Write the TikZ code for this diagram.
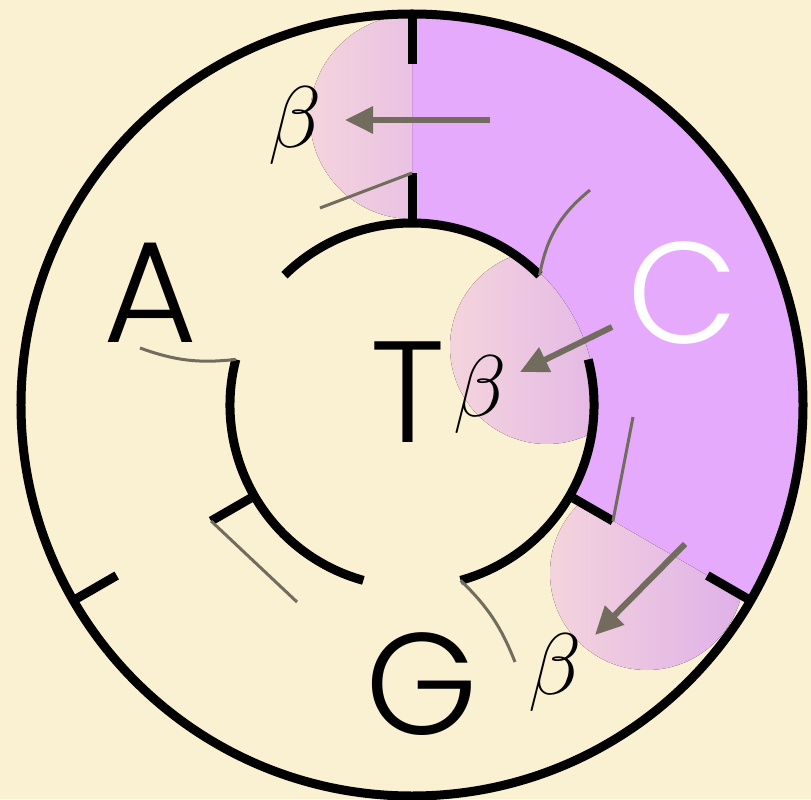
\documentclass[tikz,border=0pt]{standalone}
\usepackage{fontspec}
\newfontfamily\basefont{Poppins Light}
\definecolor{paper}{HTML}{FAF1D2}
\definecolor{lilac}{HTML}{E6AAFD}
\definecolor{blobpink}{HTML}{F4D4DC}
\definecolor{blobmauve}{HTML}{DFB0E9}
\definecolor{leadgray}{HTML}{716C5E}
\usetikzlibrary{arrows.meta}

\begin{document}
\begin{tikzpicture}[
  x=0.1mm, y=0.1mm,
  ring/.style={line width=0.9mm},
  lead/.style={draw=leadgray, line width=0.3mm},
  arr/.style={-{Triangle[length=2.8mm, width=2.6mm]}, draw=leadgray, fill=leadgray, line width=0.6mm},
  base/.style={font=\basefont\fontsize{41}{41}\selectfont, inner sep=0pt},
  greek/.style={font=\fontsize{28}{28}\selectfont, inner sep=0pt},
  blob/.style={left color=blobpink, right color=blobmauve},
]
  % paper
  \useasboundingbox (-412,-394) rectangle (399,405);
  \fill[paper] (-412,-394) rectangle (399,405);
  % sector C
  \fill[lilac] (90:391) arc[start angle=90, end angle=-30, radius=391]
    -- (-30:182) arc[start angle=-30, end angle=90, radius=182] -- cycle;
  % beta blobs, kept off sector C
  \begin{scope}
    \clip (-412,0) rectangle (0,405);
    \fill[blob] (0,288) circle[radius=102];
  \end{scope}
  \begin{scope}
    \clip (0,0) circle[radius=184];
    \fill[blob] (135,58) circle[radius=97];
  \end{scope}
  \begin{scope}
    \clip (0,0) -- (-30:600) -- (-80:600) -- cycle;
    \fill[blob] (235,-168) circle[radius=97];
  \end{scope}
  % rings, ticks
  \draw[ring] (0,0) circle[radius=391];
  \foreach \a in {90,210,330} {
    \draw[ring] (\a:391) -- (\a:341);
    \draw[ring] (\a:182) -- (\a:232);
    \draw[ring] (\a-44.5:182) arc[start angle=\a-44.5, end angle=\a+44.5, radius=182];
    \coordinate (in\a) at (\a:232);
    \coordinate (s\a) at (\a-44.5:182);
  }
  % labels
  \node[base] (lA) at (-262,112) {A};
  \node[base] (lT) at (-4,13) {T};
  \node[base, text=white] (lC) at (271,112) {C};
  \node[base] (lG) at (10,-279) {G};
  \node[greek] (b1) at (-117,279) {$\beta$};
  \node[greek] (b2) at (68,10) {$\beta$};
  \node[greek] (b3) at (143,-268) {$\beta$};
  % leaders
  \coordinate (f1) at (-92,197);
  \coordinate (f2) at (178,215);
  \coordinate (f3) at (-272,57);
  \coordinate (f4) at (221,-12);
  \coordinate (f5) at (-115,-197);
  \coordinate (f6) at (103,-257);
  \draw[lead] (f1) -- (in90);
  \draw[lead] (f2) to[bend right=20] (s90);
  \draw[lead] (f3) to[bend right=13] (s210);
  \draw[lead] (f4) -- (in330);
  \draw[lead] (in210) -- (f5);
  \draw[lead] (s330) to[bend left=12] (f6);
  % arrows
  \coordinate (t1) at (78,285);
  \coordinate (t2) at (200,78);
  \coordinate (t3) at (273,-139);
  \coordinate (h1) at (-67,285);
  \coordinate (h2) at (108,33);
  \coordinate (h3) at (183,-230);
  \draw[arr] (t1) -- (h1);
  \draw[arr] (t2) -- (h2);
  \draw[arr] (t3) -- (h3);
\end{tikzpicture}
\end{document}
